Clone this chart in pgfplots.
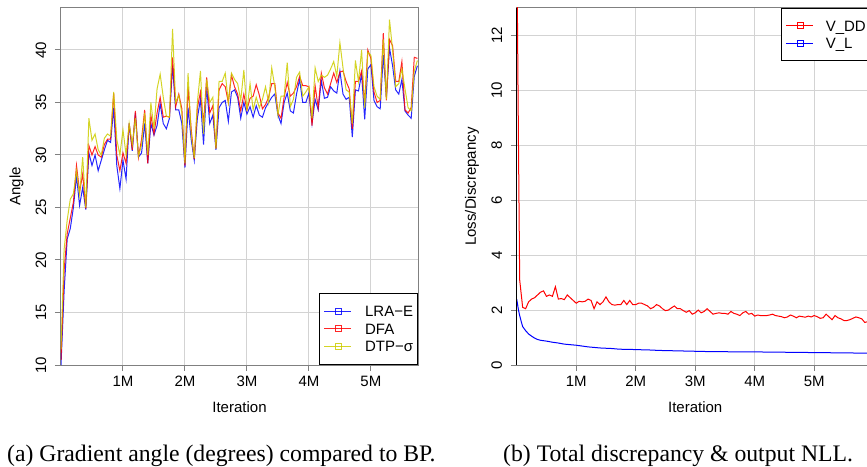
\documentclass[border=0pt]{standalone}
\usepackage{fontspec}
\setmainfont{Liberation Sans}
\newfontfamily\capfont{Liberation Serif}
\usepackage{pgfplots}
\usepackage{pgfplotstable}
\pgfplotsset{compat=1.18}

\definecolor{framegray}{RGB}{128,128,128}
\definecolor{gridgray}{RGB}{211,211,211}
\definecolor{rblue}{RGB}{0,0,255}
\definecolor{rred}{RGB}{255,0,0}
\definecolor{ryellow}{RGB}{205,205,0}
\newcommand\chartfont{\fontsize{15}{18}\selectfont}

% gradient angle vs BP (x in millions of iterations)
\pgfplotstableread{
x lra dfa dtp
0.00 10.0 10.5 11.5
0.05 17.0 19.0 21.0
0.10 22.0 22.5 23.8
0.15 23.0 24.0 25.8
0.20 25.0 25.5 26.3
0.25 28.0 29.0 28.5
0.30 25.2 26.5 26.2
0.35 26.9 28.2 29.8
0.40 24.8 24.9 25.0
0.45 30.2 30.9 33.5
0.50 29.0 30.0 31.4
0.55 30.0 30.8 32.0
0.60 28.5 30.0 30.5
0.65 29.5 29.8 30.0
0.70 30.5 31.0 31.6
0.75 31.4 31.5 32.0
0.80 31.2 31.5 31.8
0.85 34.5 35.9 36.0
0.90 29.0 30.0 31.5
0.95 26.8 28.5 30.0
1.00 29.5 30.2 32.4
1.05 27.7 29.2 30.0
1.10 33.0 33.0 33.0
1.15 30.4 30.5 31.0
1.20 34.0 34.2 33.5
1.25 29.8 29.8 29.9
1.30 30.2 31.5 31.0
1.35 33.0 34.3 34.0
1.40 29.2 29.2 30.0
1.45 33.0 33.8 35.0
1.50 31.9 32.0 32.5
1.55 32.8 34.0 36.3
1.60 34.9 35.5 37.7
1.65 33.0 33.6 35.5
1.70 32.5 33.7 33.7
1.75 33.5 33.6 33.6
1.80 38.5 39.3 42.0
1.85 34.3 34.6 35.0
1.90 34.3 35.8 35.7
1.95 33.0 34.4 34.0
2.00 28.8 29.0 29.2
2.05 34.5 36.5 37.8
2.10 31.5 32.5 32.0
2.15 29.5 29.6 29.7
2.20 33.5 34.5 35.0
2.25 35.3 36.0 38.0
2.30 31.0 33.0 32.0
2.35 36.5 37.4 37.2
2.40 33.0 34.0 35.0
2.45 33.8 34.7 35.5
2.50 30.5 30.6 30.6
2.55 34.5 36.2 37.0
2.60 35.0 36.8 37.0
2.65 35.2 36.5 37.8
2.70 33.2 35.0 35.0
2.75 36.0 37.6 37.8
2.80 36.2 36.5 37.2
2.85 35.5 35.8 36.8
2.90 33.5 34.2 35.2
2.95 35.0 35.8 38.1
3.00 33.9 34.3 34.2
3.05 34.6 35.4 36.8
3.10 33.6 35.6 34.3
3.15 34.7 36.7 35.5
3.20 33.8 35.7 34.5
3.25 33.6 34.4 35.3
3.30 34.5 34.8 36.5
3.35 35.0 35.5 35.0
3.40 35.5 36.8 38.3
3.45 35.8 36.8 36.5
3.50 33.8 34.0 33.8
3.55 33.0 33.5 35.6
3.60 35.0 35.5 35.6
3.65 35.9 36.9 38.8
3.70 34.2 35.6 34.6
3.75 34.0 35.9 35.3
3.80 35.8 36.5 37.4
3.85 37.2 37.5 37.9
3.90 35.0 36.6 35.6
3.95 35.0 36.6 36.0
4.00 35.9 36.5 36.5
4.05 33.0 32.8 33.5
4.10 35.3 36.6 38.3
4.15 34.3 34.5 37.0
4.20 37.1 37.8 37.6
4.25 35.4 36.4 37.4
4.30 35.5 35.8 37.6
4.35 36.5 36.8 38.2
4.40 36.1 37.8 38.9
4.45 35.9 36.9 37.5
4.50 38.0 37.9 40.7
4.55 35.8 38.0 38.3
4.60 35.3 37.0 36.2
4.65 35.5 36.3 36.0
4.70 31.7 32.5 33.0
4.75 36.2 37.0 39.0
4.80 36.1 37.0 37.0
4.85 37.7 38.0 40.0
4.90 33.4 35.0 34.5
4.95 38.2 40.0 39.8
5.00 38.6 39.2 39.5
5.05 35.2 36.0 36.5
5.10 34.6 35.0 35.6
5.15 34.4 35.2 35.3
5.20 39.5 41.6 41.0
5.25 35.5 35.2 35.3
5.30 40.2 41.0 42.9
5.35 38.5 40.4 40.0
5.40 36.2 37.0 36.5
5.45 35.8 37.0 36.8
5.50 37.2 38.9 38.2
5.55 34.2 34.3 36.3
5.60 33.8 34.0 34.5
5.65 33.5 34.5 34.2
5.70 37.5 39.3 38.0
5.75 38.5 39.2 39.0
}\angledata

% total discrepancy V_DD
\pgfplotstableread{
x y
0.00 16.0
0.03 8.0
0.05 3.1
0.10 2.1
0.15 2.05
0.20 2.3
0.25 2.4
0.30 2.45
0.35 2.55
0.40 2.65
0.45 2.7
0.50 2.5
0.55 2.55
0.60 2.5
0.65 2.85
0.70 2.4
0.75 2.42
0.80 2.38
0.85 2.55
0.90 2.45
0.95 2.35
1.00 2.25
1.05 2.32
1.10 2.3
1.15 2.32
1.20 2.4
1.25 2.35
1.30 2.05
1.35 2.3
1.40 2.2
1.45 2.3
1.50 2.48
1.55 2.3
1.60 2.2
1.65 2.18
1.70 2.2
1.75 2.2
1.80 2.35
1.85 2.2
1.90 2.35
1.95 2.2
2.00 2.2
2.05 2.25
2.10 2.25
2.15 2.2
2.20 2.15
2.25 2.05
2.30 2.1
2.35 2.2
2.40 2.15
2.45 2.05
2.50 1.98
2.55 2.0
2.60 2.08
2.65 2.15
2.70 2.05
2.75 2.05
2.80 1.98
2.85 1.92
2.90 1.98
2.95 1.85
3.00 1.9
3.05 2.0
3.10 1.9
3.15 1.95
3.20 2.05
3.25 1.95
3.30 1.85
3.35 1.88
3.40 1.9
3.45 1.88
3.50 1.88
3.55 1.85
3.60 1.95
3.65 1.88
3.70 1.85
3.75 1.8
3.80 1.9
3.85 1.95
3.90 1.85
3.95 1.88
4.00 1.78
4.05 1.82
4.10 1.8
4.15 1.8
4.20 1.8
4.25 1.82
4.30 1.85
4.35 1.8
4.40 1.78
4.45 1.76
4.50 1.72
4.55 1.75
4.60 1.82
4.65 1.78
4.70 1.72
4.75 1.78
4.80 1.76
4.85 1.74
4.90 1.78
4.95 1.75
5.00 1.8
5.05 1.76
5.10 1.7
5.15 1.72
5.20 1.85
5.25 1.75
5.30 1.65
5.35 1.8
5.40 1.72
5.45 1.68
5.50 1.62
5.55 1.62
5.60 1.65
5.65 1.7
5.70 1.75
5.75 1.72
5.80 1.68
5.85 1.55
5.90 1.58
5.95 1.6
6.00 1.6
}\vdd

% output NLL V_L
\pgfplotstableread{
x y
0.00 2.4
0.03 2.0
0.05 1.8
0.08 1.55
0.10 1.4
0.15 1.25
0.20 1.13
0.25 1.05
0.30 0.98
0.35 0.93
0.40 0.9
0.50 0.87
0.60 0.83
0.70 0.8
0.80 0.76
0.90 0.74
1.00 0.72
1.10 0.69
1.20 0.66
1.30 0.64
1.40 0.62
1.50 0.61
1.60 0.6
1.70 0.58
1.80 0.57
1.90 0.57
2.00 0.56
2.20 0.55
2.40 0.53
2.60 0.52
2.80 0.51
3.00 0.50
3.20 0.49
3.40 0.49
3.60 0.48
3.80 0.48
4.00 0.48
4.20 0.47
4.40 0.47
4.60 0.46
4.80 0.46
5.00 0.45
5.20 0.45
5.40 0.44
5.60 0.44
5.80 0.43
6.00 0.43
}\vl

\pgfplotsset{
  rpanel/.style={
    scale only axis, width=357pt, height=357pt, anchor=south west,
    axis line style={draw=framegray, line width=1pt},
    tick align=outside, tick pos=left, major tick length=6pt,
    tick style={draw=framegray, line width=1pt},
    grid=major, major grid style={draw=gridgray, line width=1pt},
    ticklabel style={font=\chartfont},
    label style={font=\chartfont},
    /pgf/number format/assume math mode=true,
    xticklabel style={anchor=north, inner sep=0pt},
    yticklabel style={rotate=90, anchor=south, inner sep=0pt},
    xticklabel shift=5pt,
    yticklabel shift=8.5pt,
    xtick={1,2,3,4,5},
    xticklabels={1M,2M,3M,4M,5M},
    xlabel={Iteration},
    xlabel style={at={(axis description cs:0.5,-0.117)}, anchor=center},
    ylabel style={at={(axis description cs:-0.125,0.5)}, anchor=center},
    legend cell align=left,
    legend image code/.code={
      \draw[##1] (0pt,0pt) -- (27pt,0pt);
      \draw[##1] (11pt,-3pt) rectangle (17pt,3pt);
    },
    legend style={font=\chartfont, draw=black, line width=0.8pt, fill=white,
      inner xsep=4.5pt,
      nodes={inner sep=0pt, text height=14.1pt, text depth=3.4pt}},
  }
}

\begin{document}
\begin{tikzpicture}
% (a) gradient angle
\begin{axis}[rpanel, at={(61pt,101pt)},
  xmin=0, xmax=5.76, ymin=10, ymax=44,
  ytick={10,15,20,25,30,35,40},
  ylabel={Angle},
  legend style={at={(rel axis cs:1,0)}, anchor=south east, inner ysep=9.5pt,
    /tikz/every odd column/.append style={column sep=13.5pt}},
]
\addplot[rblue, line width=1pt, opacity=0.85] table[x=x, y=lra] {\angledata};
\addlegendentry{LRA\textminus E}
\addplot[rred, line width=1pt, opacity=0.85] table[x=x, y=dfa] {\angledata};
\addlegendentry{DFA}
\addplot[ryellow, line width=1pt, opacity=0.85] table[x=x, y=dtp] {\angledata};
\addlegendentry{DTP\textminus σ}
\end{axis}

% (b) discrepancy and NLL
\begin{axis}[rpanel, at={(516.7pt,101pt)},
  xmin=0, xmax=6.0, ymin=0, ymax=13,
  ytick={0,2,4,6,8,10,12},
  ylabel={Loss/Discrepancy},
  legend style={at={(rel axis cs:1,1)}, anchor=north east, inner ysep=8.7pt,
    xshift=-3pt,
    /tikz/every odd column/.append style={column sep=12pt}},
  after end axis/.code={\draw[black, line width=1pt] (rel axis cs:0,0) -- (rel axis cs:0,1);},
]
\addplot[rred, line width=1pt] table {\vdd};
\addlegendentry{V\_DD}
\addplot[rblue, line width=1pt] table {\vl};
\addlegendentry{V\_L}
\end{axis}

\node[anchor=base west, inner sep=0pt, font=\capfont\fontsize{23.7}{27}\selectfont]
  at (7pt,4.3pt) {(a) Gradient angle (degrees) compared to BP.};
\node[anchor=base west, inner sep=0pt, font=\capfont\fontsize{23.7}{27}\selectfont]
  at (503pt,4.3pt) {(b) Total discrepancy \& output NLL.};

\pgfresetboundingbox
\path[use as bounding box] (0pt,0pt) rectangle (867pt,466pt);
\end{tikzpicture}
\end{document}
